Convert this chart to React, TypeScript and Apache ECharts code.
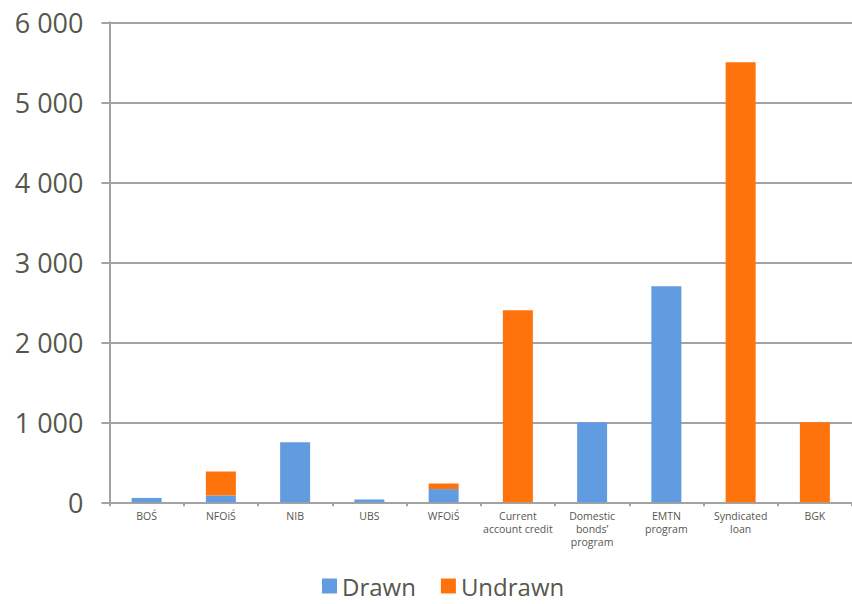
import React, { useEffect, useRef } from "react";
import * as echarts from "echarts";

const categories = [
  "BOŚ",
  "NFOiŚ",
  "NIB",
  "UBS",
  "WFOiŚ",
  "Current\naccount credit",
  "Domestic\nbonds’\nprogram",
  "EMTN\nprogram",
  "Syndicated\nloan",
  "BGK",
];
const drawn = [55, 85, 750, 35, 165, 0, 1000, 2700, 0, 0];
const undrawn = [0, 300, 0, 0, 70, 2400, 0, 0, 5500, 1000];
const seriesNames = ["Drawn", "Undrawn"];

const FONT = "'Open Sans', sans-serif";
const TXT = "#55574d";
const AXIS = "#a3a3a3";

export default function App() {
  const ref = useRef<HTMLDivElement>(null);
  useEffect(() => {
    document.body.style.margin = "0";
    const chart = echarts.init(ref.current!, null, { renderer: "svg" });
    chart.setOption({
      animation: false,
      textStyle: { fontFamily: FONT },
      grid: { left: 109.5, right: -2.5, top: 22.3, bottom: 101.7, containLabel: false },
      legend: {
        left: 322,
        top: 574,
        padding: 0,
        icon: "rect",
        itemWidth: 15,
        itemHeight: 15,
        itemGap: 25,
        data: seriesNames,
        textStyle: { fontSize: 24, lineHeight: 24, color: TXT, fontFamily: FONT },
      },
      xAxis: {
        type: "category",
        data: categories,
        axisLine: { lineStyle: { color: AXIS, width: 2 } },
        axisTick: { show: true, length: 4, lineStyle: { color: AXIS, width: 2 } },
        axisLabel: {
          interval: 0,
          fontSize: 10.5,
          color: TXT,
          lineHeight: 13,
          margin: 7,
          fontFamily: FONT,
        },
      },
      yAxis: {
        type: "value",
        min: 0,
        max: 6000,
        interval: 1000,
        axisLine: { show: true, lineStyle: { color: AXIS, width: 2 } },
        axisTick: { show: true, length: 8, lineStyle: { color: AXIS, width: 2 } },
        splitLine: { lineStyle: { color: AXIS, width: 2 } },
        axisLabel: {
          fontSize: 27,
          color: TXT,
          margin: 26,
          fontFamily: FONT,
          formatter: (v: number) => String(v).replace(/\B(?=(\d{3})+(?!\d))/g, " "),
        },
      },
      series: [
        {
          name: seriesNames[0],
          type: "bar",
          stack: "total",
          barWidth: 30,
          data: drawn,
          itemStyle: { color: "#629ce0" },
        },
        {
          name: seriesNames[1],
          type: "bar",
          stack: "total",
          barWidth: 30,
          data: undrawn,
          itemStyle: { color: "#ff730c" },
        },
      ],
    });
    return () => chart.dispose();
  }, []);
  return <div ref={ref} style={{ width: 852, height: 604 }} />;
}
